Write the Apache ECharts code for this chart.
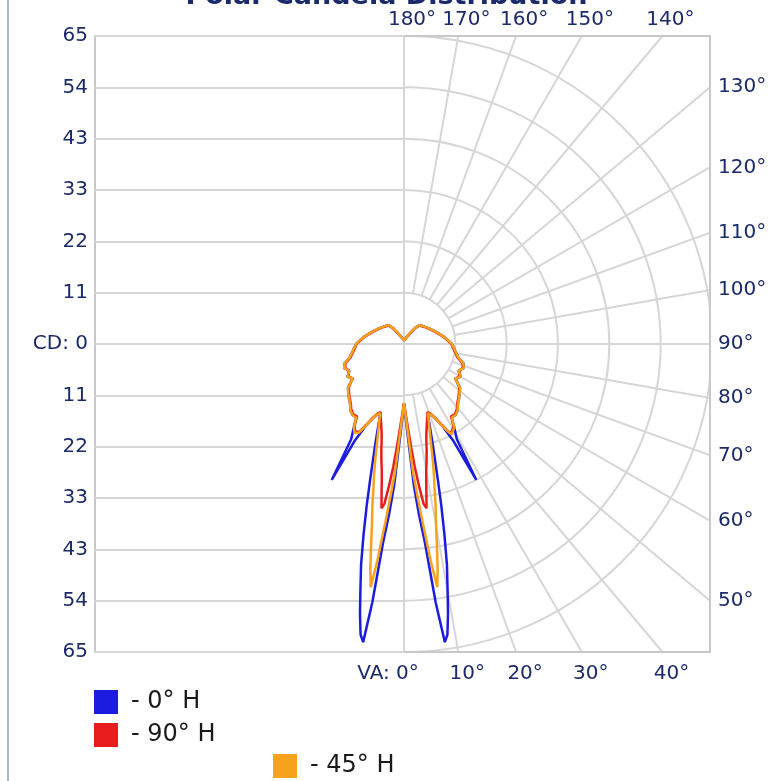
<!DOCTYPE html>
<html>
<head>
<meta charset="utf-8">
<script src="https://cdn.jsdelivr.net/npm/echarts@6/dist/echarts.min.js"></script>
<style>
  html, body { margin: 0; padding: 0; background: #fff; }
  #chart { width: 773px; height: 781px; }
</style>
</head>
<body>
<div id="chart"></div>
<script>
// vertical angles (0 = straight down, 180 = straight up), right half of the plot
const vaAngles = [0, 2, 4, 5, 6, 7, 7.8, 8.5, 9.3, 10, 11, 12, 13, 14, 16, 18, 19, 21, 23, 25, 27, 28, 29, 31, 33, 36, 39, 42, 45, 48, 52, 56, 60, 64, 68, 72, 76, 80, 85, 90, 95, 100, 110, 120, 130, 140, 145, 150, 160, 170, 180];

// candela values for each plane
const h0 = [12.5, 18, 30, 36, 42, 55, 63.5, 62, 57.5, 53, 47.5, 41, 35, 29.6, 22, 17, 15.4, 16, 17.2, 19, 23, 32.5, 23, 20.6, 18.5, 18.5, 18, 17, 16.4, 15.8, 15, 13, 13.8, 12.8, 13.6, 13.2, 11.8, 11.2, 10.6, 10.1, 9.3, 8.6, 7.3, 6.4, 5.7, 5.2, 4.2, 2.8, 1.5, 0.8, 0.4];
const h90 = [12.5, 16, 22, 26, 30, 34, 35, 32, 29, 27, 25, 23, 21, 19.5, 17.5, 16, 15.2, 15.8, 17, 18.8, 20.8, 21.2, 21.2, 20.3, 18.2, 18.3, 17.7, 16.8, 16.2, 15.6, 14.8, 13.2, 13.5, 13, 13.4, 13, 11.6, 11, 10.4, 10, 9.2, 8.5, 7.2, 6.3, 5.6, 5.1, 4.1, 2.7, 1.4, 0.8, 0.4];
const h45 = [12.5, 17, 27, 32, 38, 46, 51.8, 48, 43, 39, 35, 31, 28, 25, 20, 16.8, 15.4, 16, 17.2, 19, 21, 21.5, 21.5, 20.6, 18.5, 18.5, 18, 17, 16.4, 15.8, 15, 13, 13.8, 12.8, 13.6, 13.2, 11.8, 11.2, 10.6, 10.1, 9.3, 8.6, 7.3, 6.4, 5.7, 5.2, 4.2, 2.8, 1.5, 0.8, 0.4];

const seriesNames = ['0° H', '90° H', '45° H'];
const seriesColors = ['#1c1ce0', '#e81c1c', '#f7a21b'];

// tick labels
const cdTickLabels = ['65', '54', '43', '33', '22', '11', 'CD: 0', '11', '22', '33', '43', '54', '65'];
const bottomTickAngles = [0, 10, 20, 30, 40];
const topTickAngles = [180, 170, 160, 150, 140];
const sideTickAngles = [50, 60, 70, 80, 90, 100, 110, 120, 130];

const cdMax = 65;
const cdStep = cdMax / 6;

// layout
const CX = 404, CY = 344, R = 308;
const BOX = { left: 95, top: 36, right: 710, bottom: 652 };
const pxPerCd = R / cdMax;
const xMin = -(CX - BOX.left) / pxPerCd;
const xMax = (BOX.right - CX) / pxPerCd;
const gridColor = '#d6d6d6';
const textColor = '#1b2a6b';
const deg = Math.PI / 180;

// mirror the right half onto the left half to close the curve
function polarCurve(vals) {
  const right = vaAngles.map((a, i) => [vals[i], a]);
  const left = vaAngles.map((a, i) => [vals[i], 360 - a]).reverse();
  return right.concat(left);
}

const radialColors = [];
for (let a = 0; a < 360; a += 10) {
  radialColors.push(a > 0 && a < 180 && a !== 90 ? gridColor : 'transparent');
}
const circleColors = ['transparent'];
for (let i = 1; i <= 6; i++) circleColors.push(gridColor);

const angleLabel = { color: textColor, fontFamily: 'DejaVu Sans', fontSize: 20 };

const chart = echarts.init(document.getElementById('chart'));
chart.setOption({
  animation: false,
  backgroundColor: '#fff',
  title: {
    text: 'Polar Candela Distribution',
    left: 'center',
    top: -22,
    z: 6,
    textStyle: { fontSize: 27, fontWeight: 'bold', fontFamily: 'DejaVu Sans', color: textColor }
  },
  legend: [
    { data: [seriesNames[0]], left: 94, top: 690 },
    { data: [seriesNames[1]], left: 94, top: 723 },
    { data: [seriesNames[2]], left: 273, top: 754 }
  ].map(l => Object.assign(l, {
    icon: 'rect',
    padding: 0,
    itemWidth: 24,
    itemHeight: 24,
    selectedMode: false,
    z: 6,
    formatter: '- {name}',
    textStyle: { fontSize: 24, fontFamily: 'DejaVu Sans', color: '#1a1a1a', padding: [0, 0, 0, 8] }
  })),
  graphic: [
    { type: 'rect', shape: { x: 7, y: 0, width: 2, height: 781 }, style: { fill: '#aab6d6' }, z: 1 },
    // keep the polar grid inside the right half of the box
    { type: 'rect', shape: { x: 10, y: 0, width: CX - 11, height: 781 }, style: { fill: '#fff' }, z: 1 },
    { type: 'rect', shape: { x: CX - 1, y: 0, width: 773, height: BOX.top - 1 }, style: { fill: '#fff' }, z: 1 },
    { type: 'rect', shape: { x: CX - 1, y: BOX.bottom + 1, width: 773, height: 200 }, style: { fill: '#fff' }, z: 1 },
    { type: 'rect', shape: { x: BOX.right + 1, y: 0, width: 100, height: 781 }, style: { fill: '#fff' }, z: 1 }
  ],
  grid: [
    { left: BOX.left, top: BOX.top, width: CX - BOX.left, height: BOX.bottom - BOX.top, show: false, z: 3 },
    { left: BOX.left, top: BOX.top, width: BOX.right - BOX.left, height: BOX.bottom - BOX.top,
      show: true, borderColor: '#c8c8c8', borderWidth: 2, z: 3 }
  ],
  xAxis: [
    { gridIndex: 0, type: 'value', min: -1, max: 0, show: false },
    {
      gridIndex: 1, type: 'value', position: 'bottom', min: xMin, max: xMax, z: 3,
      axisLine: { show: false }, axisTick: { show: false }, splitLine: { show: false },
      axisLabel: Object.assign({
        customValues: bottomTickAngles.map(a => cdMax * Math.tan(a * deg)),
        margin: 12,
        padding: [0, 0, 0, 18],
        formatter: v => {
          const a = Math.round(Math.atan(v / cdMax) / deg);
          return a === 0 ? '{va|VA: 0°}' : a + '°';
        },
        rich: { va: { color: textColor, fontFamily: 'DejaVu Sans', fontSize: 20, padding: [0, 50, 0, 0] } }
      }, angleLabel)
    },
    {
      gridIndex: 1, type: 'value', position: 'top', min: xMin, max: xMax, z: 3,
      axisLine: { show: false }, axisTick: { show: false }, splitLine: { show: false },
      axisLabel: Object.assign({
        customValues: topTickAngles.map(a => cdMax * Math.tan((180 - a) * deg)),
        margin: 6,
        padding: [0, 0, 0, 16],
        formatter: v => (180 - Math.round(Math.atan(v / cdMax) / deg)) + '°'
      }, angleLabel)
    }
  ],
  yAxis: [
    {
      gridIndex: 0, type: 'value', min: -cdMax, max: cdMax, interval: cdStep, z: 3,
      axisLine: { show: false },
      axisTick: { show: true, length: 3, lineStyle: { color: gridColor, width: 2 } },
      axisLabel: {
        showMinLabel: true, showMaxLabel: true, margin: 7,
        color: textColor, fontFamily: 'DejaVu Sans', fontSize: 20,
        formatter: v => cdTickLabels[Math.round((cdMax - v) / cdStep)]
      },
      splitLine: { show: true, lineStyle: { color: gridColor, width: 2 } }
    },
    {
      gridIndex: 1, type: 'value', position: 'right', min: -cdMax, max: cdMax, z: 3,
      axisLine: { show: false }, axisTick: { show: false }, splitLine: { show: false },
      axisLabel: Object.assign({
        customValues: sideTickAngles.map(a => -xMax * Math.cos(a * deg) / Math.sin(a * deg)),
        margin: 8,
        formatter: v => Math.round(90 + Math.atan(v / xMax) / deg) + '°'
      }, angleLabel)
    }
  ],
  polar: [
    { center: [CX, CY], radius: R },
    { center: [CX, CY], radius: [R / 6, R * Math.SQRT2 + 4] }
  ],
  angleAxis: [
    {
      polarIndex: 0, type: 'value', min: 0, max: 360, interval: 90,
      startAngle: -90, clockwise: false, z: 0,
      axisLine: { show: false }, axisTick: { show: false }, axisLabel: { show: false },
      splitLine: { show: true, lineStyle: { color: [gridColor, gridColor, gridColor, 'transparent'], width: 2 } }
    },
    {
      polarIndex: 1, type: 'value', min: 0, max: 360, interval: 10,
      startAngle: -90, clockwise: false, z: 0,
      axisLine: { show: false }, axisTick: { show: false }, axisLabel: { show: false },
      splitLine: { show: true, lineStyle: { color: radialColors, width: 2 } }
    }
  ],
  radiusAxis: [
    {
      polarIndex: 0, type: 'value', min: 0, max: cdMax, interval: cdStep, z: 0,
      axisLine: { show: false }, axisTick: { show: false }, axisLabel: { show: false },
      splitLine: { show: true, lineStyle: { color: circleColors, width: 2 } }
    },
    {
      polarIndex: 1, type: 'value', min: 0, max: 1, z: 0,
      axisLine: { show: false }, axisTick: { show: false }, axisLabel: { show: false },
      splitLine: { show: false }
    }
  ],
  series: [h0, h90, h45].map((vals, i) => ({
    name: seriesNames[i],
    type: 'line',
    coordinateSystem: 'polar',
    polarIndex: 0,
    data: polarCurve(vals),
    showSymbol: false,
    silent: true,
    z: 5,
    color: seriesColors[i],
    lineStyle: { color: seriesColors[i], width: 2.5 }
  }))
});
</script>
</body>
</html>
